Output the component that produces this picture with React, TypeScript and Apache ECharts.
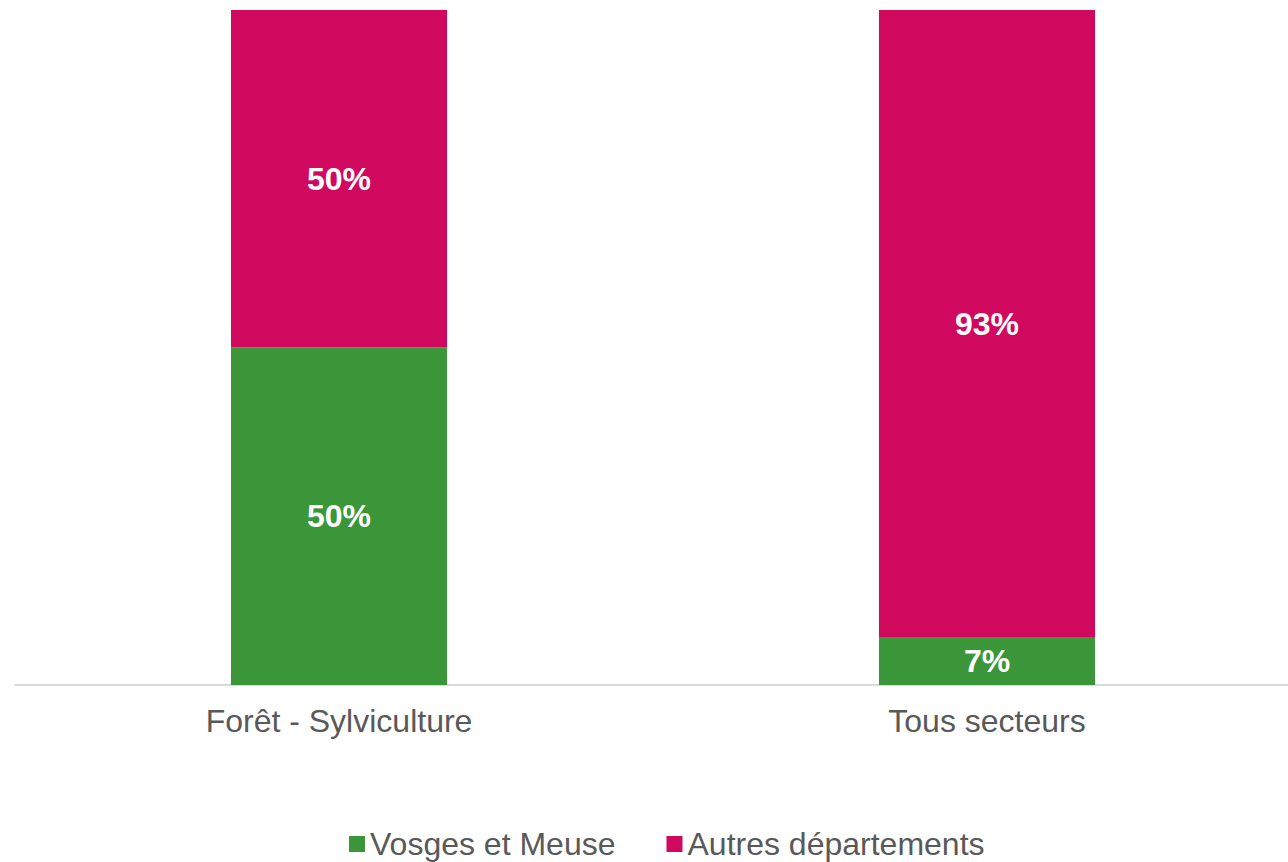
import React, { useEffect, useRef } from "react";
import * as echarts from "echarts";

const categories = ["Forêt - Sylviculture", "Tous secteurs"];
const vosgesMeuse = [50, 7];
const autresDepartements = [50, 93];
const seriesNames = ["Vosges et Meuse", "Autres départements"];

export default function App() {
  const ref = useRef<HTMLDivElement>(null);
  useEffect(() => {
    if (!ref.current) return;
    const chart = echarts.init(ref.current, null, { renderer: "svg" });
    const font = "'Liberation Sans', Arial, sans-serif";
    const label = {
      show: true,
      position: "inside",
      color: "#ffffff",
      fontWeight: "bold",
      fontSize: 32,
      fontFamily: font,
      formatter: (p: any) => p.value + "%",
    };
    chart.setOption({
      animation: false,
      grid: { left: 15, top: 10, width: 1296, bottom: 177, containLabel: false },
      legend: {
        top: 823,
        left: 344,
        itemWidth: 16,
        itemHeight: 16,
        itemGap: 51,
        icon: "rect",
        textStyle: { color: "#595959", fontSize: 32, fontFamily: font, padding: [0, 0, 0, 0] },
        data: seriesNames,
      },
      xAxis: {
        type: "category",
        data: categories,
        axisLine: { lineStyle: { color: "#D9D9D9", width: 2 } },
        axisTick: { show: false },
        axisLabel: { color: "#595959", fontSize: 32, fontFamily: font, margin: 20 },
      },
      yAxis: {
        type: "value",
        min: 0,
        max: 100,
        show: false,
        splitLine: { show: false },
      },
      series: [
        {
          name: seriesNames[0],
          type: "bar",
          stack: "total",
          data: vosgesMeuse,
          barWidth: 216,
          itemStyle: { color: "#3A9639" },
          label,
        },
        {
          name: seriesNames[1],
          type: "bar",
          stack: "total",
          data: autresDepartements,
          barWidth: 216,
          itemStyle: { color: "#D0095F" },
          label,
        },
      ],
    });
    return () => chart.dispose();
  }, []);
  return (
    <div
      style={{ position: "fixed", left: 0, top: 0, width: 1288, height: 862, overflow: "hidden", background: "#fff" }}
    >
      <div ref={ref} style={{ width: 1330, height: 862 }} />
    </div>
  );
}
